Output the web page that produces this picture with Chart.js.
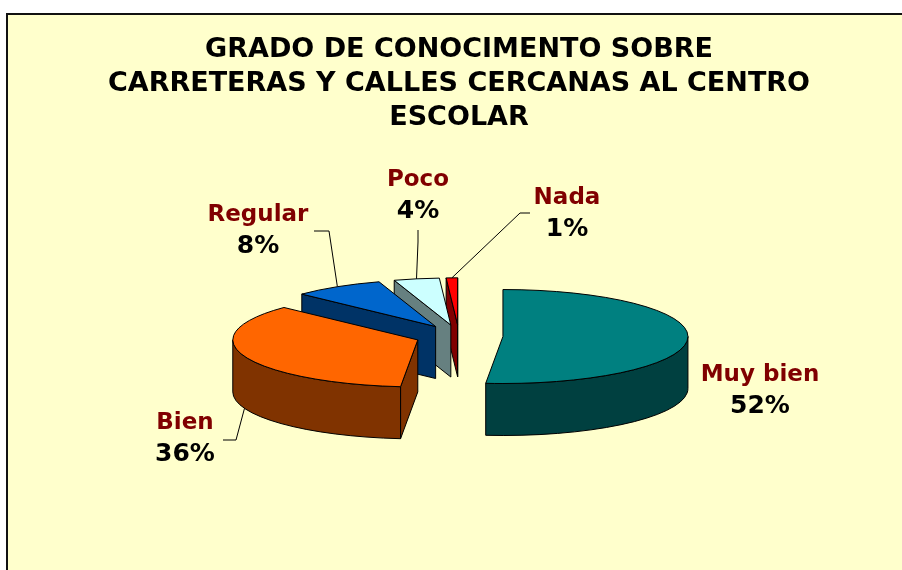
<!DOCTYPE html>
<html>
<head>
<meta charset="utf-8">
<script src="https://cdn.jsdelivr.net/npm/chart.js@4/dist/chart.umd.min.js"></script>
<style>
html,body{margin:0;padding:0;background:#ffffff;}
canvas{display:block;}
</style>
</head>
<body>
<canvas id="c" width="902" height="570"></canvas>
<script>
// ---- data ----
const categories = ['Muy bien', 'Bien', 'Regular', 'Poco', 'Nada'];
const percentages = [52, 36, 8, 4, 1];
const percentLabels = ['52%', '36%', '8%', '4%', '1%'];
const titleLines = ['GRADO DE CONOCIMENTO SOBRE', 'CARRETERAS Y CALLES CERCANAS AL CENTRO', 'ESCOLAR'];

// ---- styles / layout ----
const topColors  = ['#008080', '#FF6600', '#0066CC', '#CCFFFF', '#FF0000'];
const sideColors = ['#004040', '#803300', '#003366', '#668080', '#800000'];
const W = 902, H = 570;
const TILT = 0.254, DEPTH = 52, EXPLODE = 44, RADIUS = 185;
const FRAME = {x: 7, y: 14};
const NAME_POS = [[760, 375], [185, 423], [258, 215], [418, 180], [567, 198]];
const PCT_DY = 31;
const LEADER_ELBOWS = [null, [[223, 440], [236, 440]], [[314, 231], [329, 231]], [[418, 230], [418, 242]], [[530, 213], [520, 213]]];
const FONT = 'DejaVu Sans';

function geom(el) {
  const s = el.startAngle, e = el.endAngle, mid = (s + e) / 2;
  const r = el.outerRadius;
  return {
    s, e, mid, r, ry: r * TILT,
    x: el.x, y: el.y,
    cx: el.x + EXPLODE * Math.cos(mid),
    cy: el.y + EXPLODE * Math.sin(mid) * TILT
  };
}
function pt(g, a, h) {
  return [g.cx + g.r * Math.cos(a), g.cy + g.ry * Math.sin(a) + (h || 0)];
}
function drawFace(ctx, g, a, fill) {
  const p = pt(g, a);
  ctx.beginPath();
  ctx.moveTo(g.cx, g.cy);
  ctx.lineTo(p[0], p[1]);
  ctx.lineTo(p[0], p[1] + DEPTH);
  ctx.lineTo(g.cx, g.cy + DEPTH);
  ctx.closePath();
  ctx.fillStyle = fill;
  ctx.fill();
  ctx.stroke();
}
function drawOuter(ctx, g, fill) {
  const a1 = Math.max(g.s, 0), a2 = Math.min(g.e, Math.PI);
  if (a1 >= a2) return;
  ctx.beginPath();
  ctx.ellipse(g.cx, g.cy, g.r, g.ry, 0, a1, a2);
  const p2 = pt(g, a2, DEPTH);
  ctx.lineTo(p2[0], p2[1]);
  ctx.ellipse(g.cx, g.cy + DEPTH, g.r, g.ry, 0, a2, a1, true);
  ctx.closePath();
  ctx.fillStyle = fill;
  ctx.fill();
  ctx.stroke();
}

const pie3d = {
  id: 'pie3d',
  beforeDraw(chart) {
    const ctx = chart.ctx;
    ctx.save();
    ctx.fillStyle = '#ffffff';
    ctx.fillRect(0, 0, W, H);
    ctx.fillStyle = '#FFFFCC';
    ctx.fillRect(FRAME.x, FRAME.y, W, H);
    ctx.strokeStyle = '#111';
    ctx.lineWidth = 2;
    ctx.beginPath();
    ctx.moveTo(FRAME.x, H + 5);
    ctx.lineTo(FRAME.x, FRAME.y);
    ctx.lineTo(W + 5, FRAME.y);
    ctx.stroke();
    ctx.restore();
  },
  beforeDatasetDraw(chart, args) {
    const ctx = chart.ctx;
    const els = args.meta.data;
    const gs = els.map(geom);
    const order = gs.map((g, i) => i).sort((a, b) => Math.sin(gs[a].mid) - Math.sin(gs[b].mid));
    ctx.save();
    ctx.lineWidth = 1;
    ctx.strokeStyle = '#000';
    ctx.lineJoin = 'round';
    // side walls, back to front
    order.forEach(i => {
      const g = gs[i];
      if (Math.cos(g.s) < 0) drawFace(ctx, g, g.s, sideColors[i]);
      if (Math.cos(g.e) > 0) drawFace(ctx, g, g.e, sideColors[i]);
      drawOuter(ctx, g, sideColors[i]);
    });
    // top faces drawn by the library's arc elements, flattened
    els.forEach((el, i) => {
      const g = gs[i];
      ctx.save();
      ctx.translate(g.cx, g.cy);
      ctx.scale(1, TILT);
      ctx.translate(-g.x, -g.y);
      el.draw(ctx);
      ctx.restore();
      ctx.beginPath();
      ctx.moveTo(g.cx, g.cy);
      ctx.ellipse(g.cx, g.cy, g.r, g.ry, 0, g.s, g.e);
      ctx.closePath();
      ctx.stroke();
    });
    ctx.restore();
    return false;
  },
  afterDraw(chart) {
    const ctx = chart.ctx;
    const els = chart.getDatasetMeta(0).data;
    ctx.save();
    ctx.strokeStyle = '#000';
    ctx.lineWidth = 1;
    els.forEach((el, i) => {
      const g = geom(el);
      const elbows = LEADER_ELBOWS[i];
      if (elbows) {
        const anchor = pt(g, g.mid, Math.sin(g.mid) > 0 ? DEPTH : 0);
        ctx.beginPath();
        ctx.moveTo(elbows[0][0], elbows[0][1]);
        for (let k = 1; k < elbows.length; k++) ctx.lineTo(elbows[k][0], elbows[k][1]);
        ctx.lineTo(anchor[0], anchor[1]);
        ctx.stroke();
      }
      const [nx, ny] = NAME_POS[i];
      ctx.textAlign = 'center';
      ctx.textBaseline = 'middle';
      ctx.fillStyle = '#800000';
      ctx.font = 'bold 23px "' + FONT + '"';
      ctx.fillText(categories[i], nx, ny);
      ctx.fillStyle = '#000000';
      ctx.font = 'bold 25px "' + FONT + '"';
      ctx.fillText(percentLabels[i], nx, ny + PCT_DY);
    });
    ctx.restore();
  }
};

new Chart(document.getElementById('c'), {
  type: 'pie',
  data: {
    labels: categories,
    datasets: [{
      data: percentages,
      backgroundColor: topColors,
      borderWidth: 0,
      radius: RADIUS
    }]
  },
  options: {
    responsive: false,
    animation: false,
    events: [],
    layout: {padding: {left: 16, right: 0, top: 33, bottom: 33}},
    plugins: {
      legend: {display: false},
      tooltip: {enabled: false},
      title: {
        display: true,
        text: titleLines,
        color: '#000000',
        font: {family: FONT, size: 27, weight: 'bold', lineHeight: 34 / 27},
        padding: {top: 0, bottom: 0}
      }
    }
  },
  plugins: [pie3d]
});
</script>
</body>
</html>
